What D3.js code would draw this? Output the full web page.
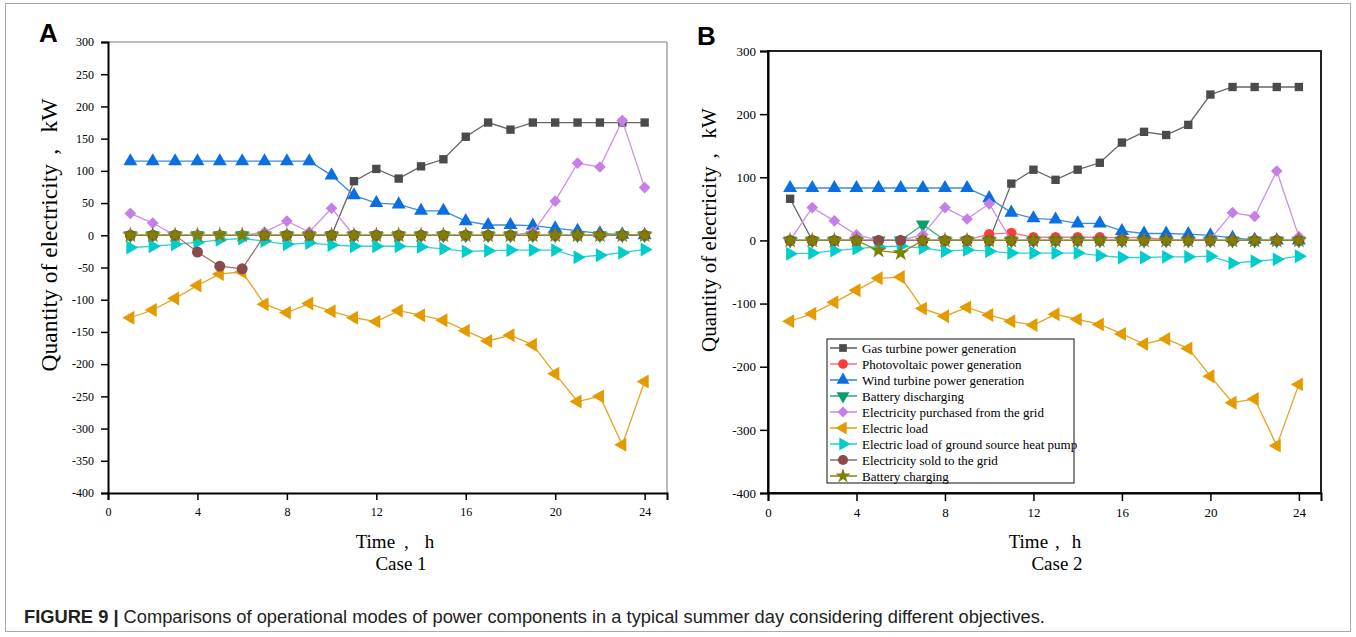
<!DOCTYPE html>
<html lang="en">
<head>
<meta charset="UTF-8" />
<title>Figure 9</title>
<script src="https://cdn.jsdelivr.net/npm/d3@7"></script>
<style>
body{margin:0;background:#fff}
svg{display:block}
.tick text{font-family:"Liberation Serif","Times New Roman",serif;fill:#000}
</style>
</head>
<body>
<svg id="fig" width="1356" height="637"></svg>
<script>
/* ===== data (kW per hour) ===== */
const hours=[1,2,3,4,5,6,7,8,9,10,11,12,13,14,15,16,17,18,19,20,21,22,23,24];
const xTicks=[0,4,8,12,16,20,24];
const yTicksA=[-400,-350,-300,-250,-200,-150,-100,-50,0,50,100,150,200,250,300];
const yTicksB=[-400,-300,-200,-100,0,100,200,300];

const seriesNames=['Gas turbine power generation','Photovoltaic power generation','Wind turbine power generation',
  'Battery discharging','Electricity purchased from the grid','Electric load',
  'Electric load of ground source heat pump','Electricity sold to the grid','Battery charging'];

// case 1
const gasA   =[0,0,0,0,0,0,0,0,0,0,84,103,88,107,118,153,175,164,175,175,175,175,175,175];
const pvA    =[0,0,0,0,0,0,0,0,0,0,0,0,0,0,0,0,0,0,0,0,0,0,0,0];
const windA  =[115,115,115,115,115,115,115,115,115,93,62,50,48,38,38,22,16,16,15,11,7,3,1,0];
const dischA =[0,0,0,0,0,0,0,0,0,0,0,0,0,0,0,0,0,0,0,0,0,0,0,0];
const buyA   =[34,19,0,0,0,0,5,22,5,42,0,0,0,0,0,0,0,0,5,53,112,106,178,74];
const loadA  =[-128,-116,-98,-78,-60,-57,-107,-120,-106,-118,-128,-134,-117,-124,-132,-148,-164,-155,-170,-215,-258,-250,-325,-227];
const gshpA  =[-19,-17,-14,-11,-7,-5,-9,-14,-12,-15,-17,-17,-17,-18,-21,-25,-24,-23,-23,-23,-34,-31,-27,-22];
const soldA  =[0,0,0,-26,-48,-52,0,0,0,0,0,0,0,0,0,0,0,0,0,0,0,0,0,0];
const chargeA=[0,0,0,0,0,0,0,0,0,0,0,0,0,0,0,0,0,0,0,0,0,0,0,0];

// case 2
const gasB   =[66,0,0,0,0,0,0,0,0,0,90,112,96,112,123,155,172,167,183,231,243,243,243,243];
const pvB    =[0,0,0,0,0,0,0,0,1,10,12,5,5,5,5,4,5,1,0,0,0,0,0,0];
const windB  =[83,83,83,83,83,83,83,83,83,67,44,35,33,27,27,15,11,11,10,8,4,1,0,0];
const dischB =[0,0,0,0,0,0,25,0,0,0,0,0,0,0,0,0,0,0,0,0,0,0,0,0];
const buyB   =[0,52,31,9,0,0,9,52,34,58,0,0,0,0,0,0,0,0,0,2,44,38,110,6];
const loadB  =[-128,-116,-98,-79,-60,-58,-108,-120,-106,-118,-128,-134,-117,-125,-133,-148,-164,-156,-171,-215,-257,-251,-325,-228];
const gshpB  =[-21,-20,-16,-13,-10,-9,-12,-17,-15,-17,-20,-20,-20,-20,-24,-27,-27,-26,-26,-25,-36,-33,-30,-25];
const soldB  =[0,0,0,0,0,0,0,0,0,0,0,0,0,0,0,0,0,0,0,0,0,0,0,0];
const chargeB=[0,0,0,0,-16,-20,0,0,0,0,0,0,0,0,0,0,0,0,0,0,0,0,0,0];

/* ===== styles per series (same order as names) ===== */
const styles=[
  {mark:'#4b4b4b',line:'#666',sym:d3.symbolSquare,size:70,rot:0},
  {mark:'#ff3b3b',line:'#ff7a7a',sym:d3.symbolCircle,size:85,rot:0},
  {mark:'#0a6fe0',line:'#3a8ae8',sym:d3.symbolTriangle,size:84,rot:0},
  {mark:'#0a9e6a',line:'#3aae82',sym:d3.symbolTriangle,size:84,rot:180},
  {mark:'#c77ee6',line:'#cc8ee8',sym:d3.symbolSquare,size:68,rot:45},
  {mark:'#e39b00',line:'#e6a520',sym:d3.symbolTriangle,size:84,rot:-90},
  {mark:'#00cccc',line:'#30d2d2',sym:d3.symbolTriangle,size:84,rot:90},
  {mark:'#8b4a4a',line:'#a07070',sym:d3.symbolCircle,size:95,rot:0},
  {mark:'#808000',line:'#8a8a20',sym:d3.symbolStar,size:85,rot:0}
];

const svg=d3.select('#fig');
const serif='"Liberation Serif","Times New Roman",serif';
const num=d=>String(d);

// outer figure frame
svg.append('rect').attr('x',5.5).attr('y',3.5).attr('width',1345).attr('height',628)
  .attr('fill','none').attr('stroke','#aaa').attr('stroke-width',1);

function panel(cfg){
  const g=svg.append('g');
  const x=d3.scaleLinear().domain([0,25]).range([cfg.l,cfg.r]);
  const y=d3.scaleLinear().domain([-400,300]).range([cfg.b,cfg.t]);
  // frame
  if(cfg.box){
    g.append('rect').attr('x',cfg.l).attr('y',cfg.t).attr('width',cfg.r-cfg.l).attr('height',cfg.b-cfg.t)
      .attr('fill','none').attr('stroke','#222').attr('stroke-width',2);
  }else{
    g.append('path').attr('d',`M${cfg.l},${cfg.t}H${cfg.r}V${cfg.b}`).attr('fill','none').attr('stroke','#777').attr('stroke-width',1);
  }
  const ax=g.append('g').attr('transform',`translate(0,${cfg.b})`)
    .call(d3.axisBottom(x).tickValues(xTicks).tickSize(cfg.tick).tickPadding(cfg.xpad).tickFormat(num));
  const ay=g.append('g').attr('transform',`translate(${cfg.l},0)`)
    .call(d3.axisLeft(y).tickValues(cfg.yTicks).tickSize(cfg.tick).tickPadding(cfg.ypad).tickFormat(num));
  [ax,ay].forEach(a=>{
    a.selectAll('.domain').attr('stroke','#000').attr('stroke-width',2);
    a.selectAll('.tick line').attr('stroke','#000').attr('stroke-width',1.5);
    a.selectAll('text').attr('font-size',cfg.fs).attr('font-family',serif);
  });
  // series
  cfg.data.forEach((vals,i)=>{
    const st=styles[i];
    const pts=hours.map((h,k)=>[h,vals[k]]);
    g.append('path').datum(pts).attr('fill','none').attr('stroke',st.line).attr('stroke-width',1.3)
      .attr('d',d3.line().x(d=>x(d[0])).y(d=>y(d[1])));
    g.selectAll(null).data(pts).enter().append('path')
      .attr('d',d3.symbol(st.sym,st.size))
      .attr('transform',d=>`translate(${x(d[0])},${y(d[1])}) rotate(${st.rot})`)
      .attr('fill',st.mark);
  });
  // titles
  const yt=g.append('text').attr('transform',`translate(${cfg.ytX},${cfg.ytY}) rotate(-90)`).attr('text-anchor','middle')
    .attr('font-family',serif).attr('font-size',cfg.yfs);
  yt.append('tspan').text('Quantity of electricity');
  yt.append('tspan').attr('dx',cfg.yfs*0.45).text(',');
  yt.append('tspan').attr('dx',cfg.yfs*0.7).text('kW');
  const xt=g.append('text').attr('x',cfg.xtX).attr('y',548).attr('text-anchor','middle')
    .attr('font-family',serif).attr('font-size',19);
  xt.append('tspan').text('Time');
  xt.append('tspan').attr('dx',cfg.tgap[0]).text(',');
  xt.append('tspan').attr('dx',cfg.tgap[1]).text('h');
  g.append('text').attr('x',cfg.csX).attr('y',570).attr('text-anchor','middle')
    .attr('font-family',serif).attr('font-size',19).text(cfg.caseLabel);
  g.append('text').attr('x',cfg.lab[0]).attr('y',cfg.lab[1]).attr('font-family','"Liberation Sans",Arial,sans-serif')
    .attr('font-weight','bold').attr('font-size',26).text(cfg.letter);
  return {g,x,y};
}

panel({l:108,r:667,t:42,b:493,box:false,tick:7,xpad:7,ypad:7,fs:12,yTicks:yTicksA,yfs:23.5,
  data:[gasA,pvA,windA,dischA,buyA,loadA,gshpA,soldA,chargeA],tgap:[9,16],
  ytX:57,ytY:235,xtX:395,csX:401,caseLabel:'Case 1',letter:'A',lab:[39,42]});
panel({l:768,r:1321,t:51,b:493,box:true,tick:8,xpad:7,ypad:4,fs:13,yTicks:yTicksB,yfs:21,
  data:[gasB,pvB,windB,dischB,buyB,loadB,gshpB,soldB,chargeB],tgap:[7,12],
  ytX:716,ytY:230,xtX:1045,csX:1057,caseLabel:'Case 2',letter:'B',lab:[697,45]});

/* ===== legend (case 2 only) ===== */
const lg=svg.append('g').attr('transform','translate(827,339)');
lg.append('rect').attr('width',247).attr('height',144).attr('fill','#fff').attr('stroke','#111').attr('stroke-width',1);
seriesNames.forEach((n,i)=>{
  const st=styles[i],yy=9+i*16;
  lg.append('line').attr('x1',3).attr('x2',30).attr('y1',yy).attr('y2',yy).attr('stroke',st.line).attr('stroke-width',1.6);
  lg.append('path').attr('d',d3.symbol(st.sym,st.size*0.85)).attr('transform',`translate(16,${yy}) rotate(${st.rot})`).attr('fill',st.mark);
  lg.append('text').attr('x',35).attr('y',yy+4.5).attr('font-family',serif).attr('font-size',13).text(n);
});

/* ===== caption ===== */
const cap=svg.append('text').attr('x',24).attr('y',623).attr('font-family','"Liberation Sans",Arial,sans-serif').attr('font-size',18.3).attr('fill','#222');
cap.append('tspan').attr('font-weight','bold').text('FIGURE 9 | ');
cap.append('tspan').text('Comparisons of operational modes of power components in a typical summer day considering different objectives.');
</script>
</body>
</html>
